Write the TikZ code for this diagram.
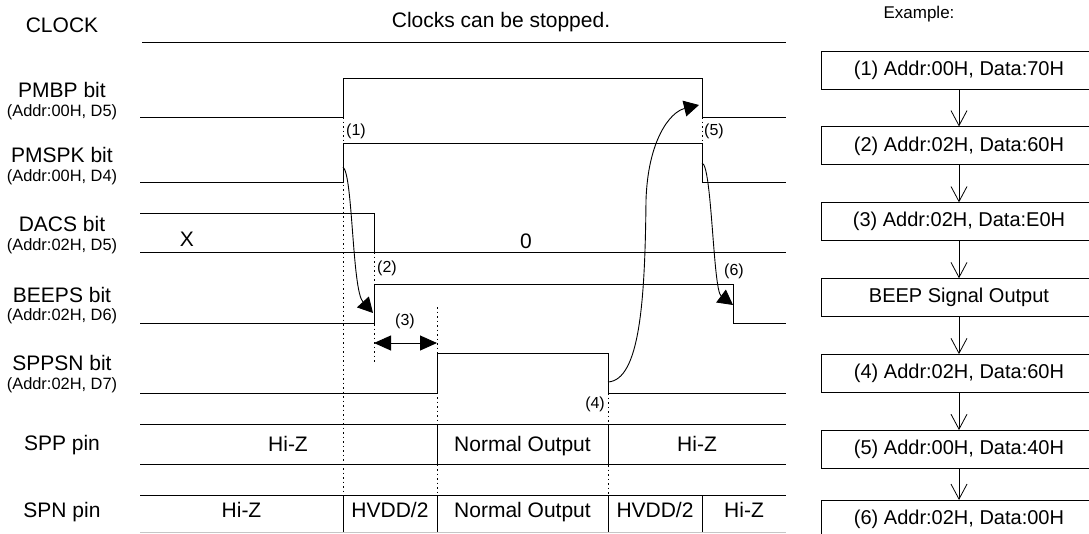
\documentclass[tikz,border=0pt]{standalone}
\usepackage{fontspec}
\setmainfont{Liberation Sans}
\usepackage{tikz}
\usetikzlibrary{positioning,arrows.meta}
\colorlet{edgeGray}{gray!45}

\begin{document}
\begin{tikzpicture}[x=1pt, y=-1pt, every node/.style={font=\fontsize{21}{25}\selectfont, inner sep=0pt}, node distance=37pt,
        sig/.style={line width=1pt},
        grid/.style={line width=0.8pt, dash pattern=on 1.5pt off 3pt},
        sub/.style={font=\fontsize{16.4}{19}\selectfont, anchor=base},
        tag/.style={font=\fontsize{16}{19}\selectfont, anchor=base},
        hop/.style={-{Triangle[length=15pt,width=16pt]}, line width=0.9pt},
        span/.style={{Triangle[length=17pt,width=15pt]}-{Triangle[length=17pt,width=15pt]}, line width=0.9pt},
        stepbox/.style={draw, line width=0.9pt, minimum width=276pt, minimum height=38pt, font=\fontsize{20}{24}\selectfont},
        flow/.style={-{Straight Barb[length=15pt,width=16pt]}, line width=0.8pt}]
        \useasboundingbox (0,0) rectangle (1089,533);

        % signal names
        \node[anchor=base] (clk) at (62,32) {CLOCK};
        \node[anchor=base] (pmbp) at (62,97) {PMBP bit};
        \node[sub] (pmbpA) at (62,116) {(Addr:00H, D5)};
        \node[anchor=base] (pmspk) at (62,162) {PMSPK bit};
        \node[sub] (pmspkA) at (62,181) {(Addr:00H, D4)};
        \node[anchor=base] (dacs) at (62,231) {DACS bit};
        \node[sub] (dacsA) at (62,250) {(Addr:02H, D5)};
        \node[anchor=base] (beeps) at (62,302) {BEEPS bit};
        \node[sub] (beepsA) at (62,320) {(Addr:02H, D6)};
        \node[anchor=base] (sppsn) at (62,370) {SPPSN bit};
        \node[sub] (sppsnA) at (62,389) {(Addr:02H, D7)};
        \node[anchor=base] (spp) at (62,450) {SPP pin};
        \node[anchor=base] (spn) at (62,517) {SPN pin};
        \node[anchor=base] (stop) at (501,27) {Clocks can be stopped.};

        % waveforms
        \draw[sig] (142,42) -- (786,42);
        \draw[sig] (140,117) -- (343,117) -- (343,78) -- (702,78) -- (702,117) -- (786,117);
        \draw[sig] (140,182) -- (343,182) -- (343,143) -- (702,143) -- (702,182) -- (786,182);
        \draw[sig] (140,213) -- (374,213) -- (374,252);
        \draw[sig] (140,252) -- (786,252);
        \draw[sig] (140,323) -- (374,323) -- (374,284) -- (733,284) -- (733,323) -- (786,323);
        \draw[sig] (140,393) -- (437,393) -- (437,353) -- (608,353) -- (608,393) -- (786,393);
        \draw[sig] (140,424) -- (786,424) (140,464) -- (786,464) (437,424) -- (437,464) (608,424) -- (608,464);
        \draw[sig] (140,495) -- (786,495) (343,495) -- (343,532) (437,495) -- (437,532) (608,495) -- (608,532) (702,495) -- (702,532);
        \draw[edgeGray, line width=1pt] (140,532) -- (786,532);

        % timing marks
        \draw[grid] (343,117) -- (343,495);
        \draw[grid] (702,117) -- (702,143);
        \draw[grid] (374,252) -- (374,363);
        \draw[grid] (437,307) -- (437,495);
        \draw[grid] (608,393) -- (608,495);

        \node[anchor=base] (dacsX) at (187,246) {X};
        \node[anchor=base] (dacs0) at (526,248) {0};
        \node[anchor=base] (sppZ1) at (288,451) {Hi-Z};
        \node[anchor=base] (sppOut) at (522.5,451) {Normal Output};
        \node[anchor=base] (sppZ2) at (697,451) {Hi-Z};
        \node[anchor=base] (spnZ1) at (241.5,517) {Hi-Z};
        \node[anchor=base] (spnH1) at (390,517) {HVDD/2};
        \node[anchor=base] (spnOut) at (522.5,517) {Normal Output};
        \node[anchor=base] (spnH2) at (655,517) {HVDD/2};
        \node[anchor=base] (spnZ2) at (744,517) {Hi-Z};

        \node[tag, anchor=base west] (t1) at (346,135) {(1)};
        \node[tag, anchor=base west] (t5) at (704,135) {(5)};
        \node[tag, anchor=base west] (t2) at (377,272) {(2)};
        \node[tag] (t6) at (734,275) {(6)};
        \node[tag] (t3) at (405,325) {(3)};
        \node[tag, anchor=base east] (t4) at (605,408) {(4)};

        % cause and effect
        \coordinate (pmspkUp) at (343,167);
        \coordinate (beepsUp) at (373,313);
        \coordinate (sppsnDn) at (608,382);
        \coordinate (pmbpDn) at (699,105);
        \coordinate (pmspkDn) at (702,163);
        \coordinate (beepsDn) at (733,305);
        \coordinate (waitL) at (374,343);
        \coordinate (waitR) at (437,343);
        \draw[hop] (pmspkUp) .. controls (353,175) and (352,290) .. (beepsUp);
        \draw[hop] (sppsnDn) .. controls (640,380) and (645,300) .. (646,200) .. controls (648,140) and (670,112) .. (pmbpDn);
        \draw[hop] (pmspkDn) .. controls (712,165) and (713,290) .. (beepsDn);
        \draw[span] (waitL) -- (waitR);

        % register write sequence
        \node[anchor=base, font=\fontsize{17}{20}\selectfont] (ex) at (919,18) {Example:};
        \node[stepbox] (b1) at (959,70) {(1) Addr:00H, Data:70H};
        \node[stepbox, below=of b1] (b2) {(2) Addr:02H, Data:60H};
        \node[stepbox, below=of b2] (b3) {(3) Addr:02H, Data:E0H};
        \node[stepbox, below=of b3] (b4) {BEEP Signal Output};
        \node[stepbox, below=of b4] (b5) {(4) Addr:02H, Data:60H};
        \node[stepbox, below=of b5] (b6) {(5) Addr:00H, Data:40H};
        \node[stepbox, below=31pt of b6] (b7) {(6) Addr:02H, Data:00H};
        \draw[flow] (b1) -- (b2);
        \draw[flow] (b2) -- (b3);
        \draw[flow] (b3) -- (b4);
        \draw[flow] (b4) -- (b5);
        \draw[flow] (b5) -- (b6);
        \draw[flow] (b6) -- (b7);
    \end{tikzpicture}
\end{document}
